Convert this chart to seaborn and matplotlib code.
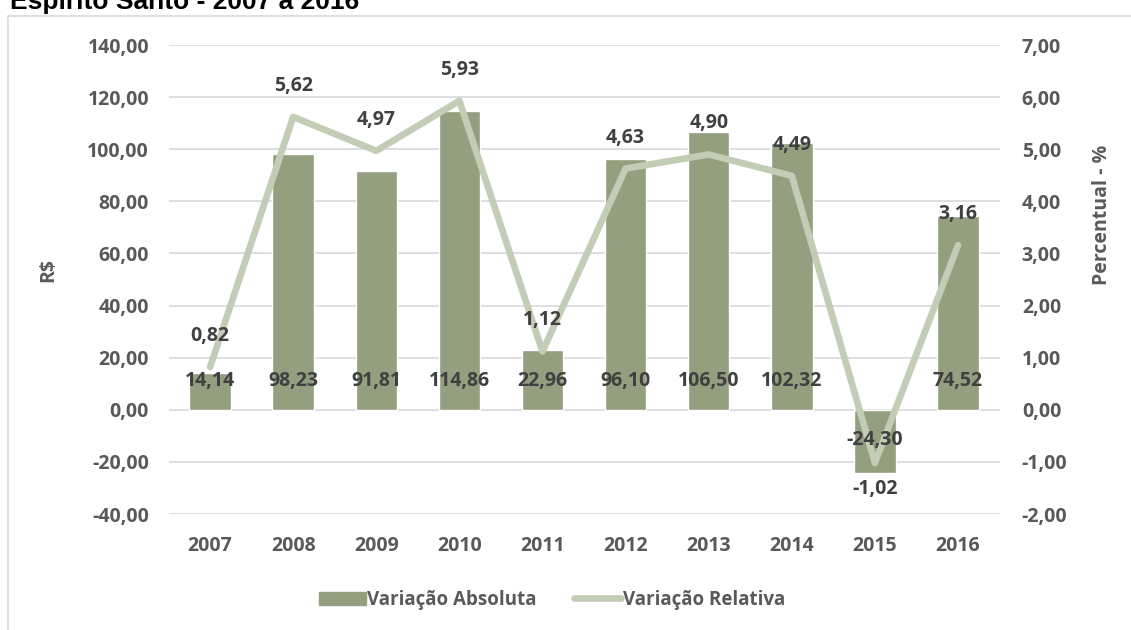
import matplotlib.pyplot as plt
import matplotlib.patches as mpatches
from matplotlib.lines import Line2D
import seaborn as sns
import numpy as np

# data
years = ["2007", "2008", "2009", "2010", "2011", "2012", "2013", "2014", "2015", "2016"]
var_abs = [14.14, 98.23, 91.81, 114.86, 22.96, 96.10, 106.50, 102.32, -24.30, 74.52]
var_rel = [0.82, 5.62, 4.97, 5.93, 1.12, 4.63, 4.90, 4.49, -1.02, 3.16]

left_ticks = np.arange(-40, 141, 20)
right_ticks = np.arange(-2, 7.1, 1)

bar_color = "#939F7E"
line_color = "#C3CCB4"
txt = "#595959"
lbl = "#404040"
grid = "#D9D9D9"
FS = 14


def br(v):
    return f"{v:.2f}".replace(".", ",")


sns.set_theme(style="white")
plt.rcParams["font.family"] = ["Open Sans", "DejaVu Sans"]
plt.rcParams["font.weight"] = "bold"

fig = plt.figure(figsize=(11.31, 6.3), dpi=100)
ax = fig.add_axes([0.149, 0.1841, 0.7348, 0.7444])

sns.barplot(x=years, y=var_abs, ax=ax, color=bar_color, saturation=1,
            width=0.5, zorder=2)
ax.set_ylim(-40, 140)
ax.set_yticks(left_ticks)
ax.set_yticklabels([br(t) for t in left_ticks], fontweight="bold")
ax.set_xticks(range(len(years)))
ax.set_xticklabels(years, fontweight="bold")
ax.set_xlim(-0.5, len(years) - 0.5)
ax.yaxis.grid(True, color=grid, lw=1.2, zorder=0)
ax.set_axisbelow(True)
ax.tick_params(axis="y", length=0, pad=14, labelsize=FS, labelcolor=txt)
ax.tick_params(axis="x", length=0, pad=16, labelsize=FS, labelcolor=txt)
for s in ax.spines.values():
    s.set_visible(False)
ax.set_ylabel("R$", fontsize=FS, color=txt, fontweight="bold")
ax.yaxis.set_label_coords(-0.133, 0.52)

ax2 = ax.twinx()
sns.lineplot(x=np.arange(len(years)), y=var_rel, ax=ax2, color=line_color,
             lw=4.8, solid_capstyle="round", solid_joinstyle="round", zorder=3)
ax2.set_ylim(-2, 7)
ax2.set_yticks(right_ticks)
ax2.set_yticklabels([br(t) for t in right_ticks], fontweight="bold")
ax2.set_xlim(-0.5, len(years) - 0.5)
ax2.tick_params(axis="y", length=0, pad=16, labelsize=FS, labelcolor=txt)
for s in ax2.spines.values():
    s.set_visible(False)
ax2.grid(False)
ax2.set_ylabel("Percentual - %", fontsize=FS, color=txt, fontweight="bold")
ax2.yaxis.set_label_coords(1.111, 0.6375)

# labels on bars, near the base (drawn on the top axes so the line stays below)
for i, v in enumerate(var_abs):
    off = 29 if v >= 0 else -30
    ax2.annotate(br(v), (i, v * 0), xycoords=ax.transData, xytext=(0, off),
                 textcoords="offset pixels", ha="center", va="center",
                 fontsize=FS, color=lbl, fontweight="bold", zorder=6)

for i, v in enumerate(var_rel):
    off = 31 if v >= 0 else -26
    ax2.annotate(br(v), (i, v), xytext=(0, off), textcoords="offset pixels",
                 ha="center", va="center", fontsize=FS, color=lbl,
                 fontweight="bold", zorder=6)

# title (partly cut at top) and outer frame
fig.text(0.009, 0.9857, "Espírito Santo - 2007 a 2016", fontsize=19,
         fontweight="bold", family=["Liberation Sans", "DejaVu Sans"],
         color="black", ha="left", va="baseline")
fig.add_artist(mpatches.Rectangle((8 / 1131, -0.01), 1.0, 0.9846, transform=fig.transFigure,
                                  fill=False, edgecolor=grid, lw=1.2))

handles = [mpatches.Patch(color=bar_color),
           Line2D([0], [0], color=line_color, lw=4.8, solid_capstyle="round")]
fig.legend(handles, ["Variação Absoluta", "Variação Relativa"], loc="center",
           bbox_to_anchor=(552 / 1131, 1 - 600 / 630), ncol=2, frameon=False,
           prop={"size": 13.5, "weight": "bold"}, handlelength=2.5,
           handletextpad=0.1, columnspacing=2.0, labelcolor=txt)

fig.savefig("out.png", dpi=100)
